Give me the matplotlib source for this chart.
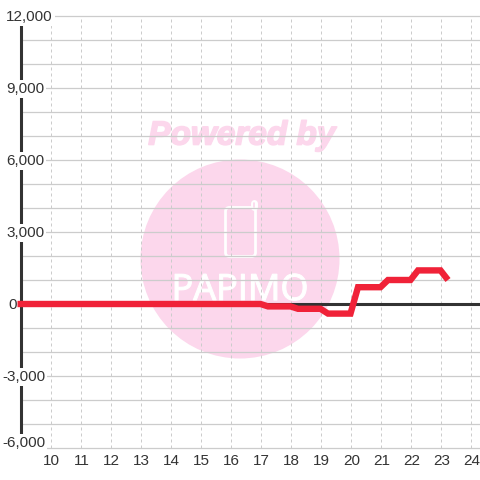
import matplotlib
matplotlib.use("Agg")
import matplotlib.pyplot as plt
import matplotlib.patheffects as pe
from matplotlib.patches import Circle, FancyBboxPatch

plt.rcParams['font.family'] = ['Liberation Sans', 'DejaVu Sans']

hours = [8.9, 10, 11, 12, 13, 14, 15, 16, 17, 17.25, 18, 18.25, 19, 19.25, 20, 20.25,
         21, 21.25, 22, 22.25, 23, 23.25]
values = [0, 0, 0, 0, 0, 0, 0, 0, 0, -100, -100, -200, -200, -400, -400, 700,
          700, 1000, 1000, 1400, 1400, 1000]
x_ticks = list(range(10, 25))
y_major = [12000, 9000, 6000, 3000, 0, -3000, -6000]
y_labels = ['12,000', '9,000', '6,000', '3,000', '0', '-3,000', '-6,000']
y_grid = list(range(-6000, 13000, 1000))

INK = '#333333'
GRID = '#cccccc'
PINK = '#fcd7ec'
RED = '#f02238'

fig = plt.figure(figsize=(4.8, 4.8), dpi=100, facecolor='white')

# watermark layer, in pixel coordinates
bg = fig.add_axes([0, 0, 1, 1], zorder=0)
bg.set_xlim(0, 480)
bg.set_ylim(480, 0)
bg.axis('off')
bg.add_patch(Circle((240, 259), 99.5, fc=PINK, ec='none'))
bg.text(242, 136, 'Powered by', color=PINK, fontsize=24, fontweight='bold',
        fontstyle='italic', ha='center', va='center',
        path_effects=[pe.withStroke(linewidth=1.2, foreground=PINK)])
bg.add_patch(FancyBboxPatch((225.5, 207.5), 30, 49, boxstyle='round,pad=0,rounding_size=4',
                            fc='none', ec='white', lw=2.0))
bg.plot([253.5, 253.5], [207, 202.5], color='white', lw=5, solid_capstyle='round')
bg.plot([253.5, 253.5], [207, 202.5], color=PINK, lw=1.2, solid_capstyle='round')
bg.text(240, 291, 'PAPIMO', color='white', fontsize=26, family=['Open Sans', 'DejaVu Sans'],
        ha='center', va='center',
        path_effects=[pe.withStroke(linewidth=0.8, foreground='white')])

# chart layer: full-figure axes, 30 px per hour, 24 px per 1000
ax = fig.add_axes([0, 0, 1, 1], zorder=1)
ax.patch.set_alpha(0)
ax.set_xlim(10 - 50.5 / 30, 10 + (480 - 50.5) / 30)
ax.set_ylim(-(480 - 304) / 24 * 1000, (304) / 24 * 1000)
for s in ax.spines.values():
    s.set_visible(False)
ax.set_xticks([])
ax.set_yticks([])

ax.hlines(y_grid, 9, 24.97, color=GRID, lw=0.9, zorder=1)
ax.vlines(x_ticks, -6000, 12000, color=GRID, lw=0.72, linestyles=(0, (3, 3)), zorder=1)

ax.hlines(0, 9, 24.97, color=INK, lw=2.2, zorder=2)
ax.vlines(9, -6000, 12000, color=INK, lw=2.2, zorder=2)
ax.plot(hours, values, color=RED, lw=4.6, solid_joinstyle='miter', solid_capstyle='butt', zorder=3)

box = dict(facecolor='white', edgecolor='none', pad=1.5)
left_px = {'-3,000': 2, '-6,000': 2, '0': 8}
for v, lab in zip(y_major, y_labels):
    px = left_px.get(lab, 6)
    dy = 5 if v == -6000 else -1
    ax.annotate(lab, xy=(0, v), xycoords=('axes fraction', 'data'),
                xytext=(px, dy), textcoords='offset pixels',
                ha='left', va='center', fontsize=11, color=INK,
                bbox=None if lab == '0' else box, zorder=4)
for t in x_ticks:
    ax.annotate(str(t), xy=(t, -6000), xycoords='data', xytext=(1, -13), textcoords='offset pixels',
                ha='center', va='center', fontsize=11, color=INK, zorder=4)

fig.savefig('out.png', dpi=100)
